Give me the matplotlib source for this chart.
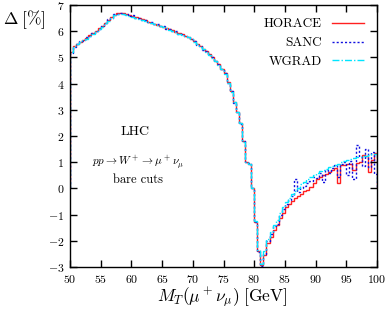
import numpy as np
import matplotlib
matplotlib.use("Agg")
import matplotlib.pyplot as plt

plt.rcParams["font.family"] = "serif"
plt.rcParams["font.serif"] = ["cmr10", "DejaVu Serif"]
plt.rcParams["mathtext.fontset"] = "cm"
plt.rcParams["axes.formatter.use_mathtext"] = True

# bin edges in M_T (0.5 GeV bins)
edges = np.arange(50.0, 100.01, 0.5)

horace = [
    5.22, 5.45, 5.52, 5.60, 5.66, 5.74, 5.84, 5.93, 6.02, 6.12,   # 50-54.5
    6.18, 6.33, 6.43, 6.55, 6.63, 6.68, 6.69, 6.68, 6.66, 6.62,   # 55-59.5
    6.58, 6.55, 6.50, 6.46, 6.42, 6.37, 6.33, 6.29, 6.25, 6.21,   # 60-64.5
    6.17, 6.13, 6.08, 6.04, 5.98, 5.92, 5.88, 5.83, 5.78, 5.72,   # 65-69.5
    5.62, 5.52, 5.43, 5.33, 5.23, 5.12, 5.00, 4.88, 4.73, 4.57,   # 70-74.5
    4.40, 4.05, 3.70, 3.30, 2.92, 2.50, 1.80, 1.02, 0.95, 0.02,   # 75-79.5
    -1.28, -2.40, -2.92, -2.55, -2.08, -1.85, -1.59, -1.40, -1.13, -0.95,  # 80-84.5
    -0.71, -0.60, -0.48, -0.37, -0.28, -0.20, -0.10, -0.05, 0.05, 0.20,    # 85-89.5
    0.35, 0.45, 0.50, 0.55, 0.62, 0.70, 0.78, 0.20, 0.88, 0.90,   # 90-94.5
    0.92, 0.95, 0.72, 0.97, 1.00, 1.28, 1.25, 0.62, 1.08, 1.35,   # 95-99.5
]

sanc = [
    5.18, 5.40, 5.50, 5.62, 5.64, 5.76, 5.82, 5.95, 6.00, 6.10,
    6.20, 6.30, 6.45, 6.52, 6.66, 6.65, 6.71, 6.64, 6.67, 6.58,
    6.60, 6.52, 6.51, 6.43, 6.43, 6.34, 6.34, 6.26, 6.26, 6.18,
    6.18, 6.10, 6.09, 6.01, 5.99, 5.89, 5.89, 5.80, 5.79, 5.69,
    5.63, 5.49, 5.44, 5.30, 5.24, 5.09, 5.01, 4.85, 4.74, 4.54,
    4.41, 4.02, 3.71, 3.27, 2.93, 2.47, 1.82, 0.99, 0.96, 0.00,
    -1.30, -2.42, -2.95, -2.50, -2.00, -1.75, -1.45, -1.35, -1.00, -0.80,
    -0.60, -0.45, -0.30, 0.35, -0.15, 0.00, 0.10, 0.22, 0.30, 0.45,
    0.40, 0.58, 0.26, 0.70, 0.60, 0.78, 0.90, 0.45, 0.95, 1.00,
    0.50, 1.05, 0.35, 1.65, 1.20, 0.85, 1.50, 0.80, 1.40, 0.55,
]

wgrad = [
    5.20, 5.42, 5.50, 5.58, 5.65, 5.72, 5.82, 5.91, 6.00, 6.10,
    6.17, 6.30, 6.40, 6.52, 6.60, 6.64, 6.65, 6.64, 6.63, 6.59,
    6.55, 6.52, 6.48, 6.43, 6.39, 6.35, 6.31, 6.27, 6.23, 6.19,
    6.15, 6.11, 6.06, 6.02, 5.96, 5.90, 5.86, 5.81, 5.76, 5.70,
    5.60, 5.50, 5.41, 5.31, 5.21, 5.10, 4.98, 4.86, 4.71, 4.55,
    4.38, 4.03, 3.68, 3.28, 2.90, 2.48, 1.78, 1.00, 0.93, 0.00,
    -1.25, -2.35, -2.88, -2.40, -1.95, -1.65, -1.40, -1.20, -0.95, -0.72,
    -0.52, -0.35, -0.22, -0.10, 0.02, 0.15, 0.25, 0.35, 0.45, 0.52,
    0.58, 0.65, 0.70, 0.75, 0.80, 0.85, 0.90, 0.95, 1.00, 1.05,
    1.08, 1.12, 1.15, 1.18, 1.20, 1.24, 1.22, 1.28, 1.30, 1.33,
]

fig = plt.figure(figsize=(3.87, 3.15), dpi=100)
ax = fig.add_axes([70 / 387, 48 / 315, 307 / 387, 262 / 315])

ax.stairs(horace, edges, color="#ff2020", lw=1.0, label="HORACE")
ax.stairs(sanc, edges, color="#1010e0", lw=1.0, linestyle=(0, (1.5, 1.5)), label="SANC")
ax.stairs(wgrad, edges, color="#00e5ff", lw=1.0, linestyle=(0, (5, 1.5, 1, 1.5)), label="WGRAD")

ax.set_xlim(50, 100)
ax.set_ylim(-3, 7)
ax.set_xticks(np.arange(50, 101, 5))
ax.set_yticks(np.arange(-3, 8, 1))
ax.tick_params(direction="in", top=True, right=True, length=5, width=1,
               labelsize=8.5, pad=4)
for s in ax.spines.values():
    s.set_linewidth(1)

ax.legend(loc="upper right", frameon=False, markerfirst=False, fontsize=9.5,
          handlelength=2.4, labelspacing=0.5, borderaxespad=0.6)

ax.text(60.6, 2.15, "LHC", ha="center", va="center", fontsize=10)
ax.text(61.0, 0.97, r"$pp \rightarrow W^+ \rightarrow \mu^+\nu_\mu$",
        ha="center", va="center", fontsize=8)
ax.text(61.0, 0.32, "bare cuts", ha="center", va="center", fontsize=9)

fig.text(222 / 387, 1 - 297 / 315, r"$M_T(\mu^+\nu_\mu)\;[\mathrm{GeV}]$",
         ha="center", va="center", fontsize=12.5)
fig.text(3 / 387, 1 - 20 / 315, r"$\Delta\;[\%]$", ha="left", va="center", fontsize=12.5)

fig.savefig("out.png", dpi=100)
